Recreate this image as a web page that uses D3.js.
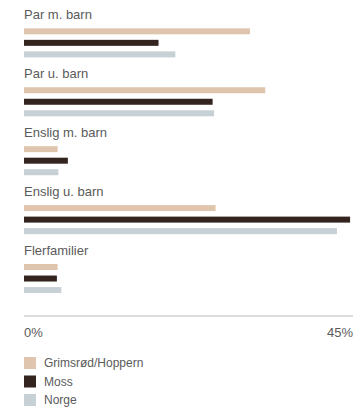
<!DOCTYPE html>
<html>
<head>
<meta charset="utf-8">
<script src="https://cdn.jsdelivr.net/npm/d3@7"></script>
<style>
  body { margin: 0; background: #fff; }
  text { font-family: "Liberation Sans", Arial, sans-serif; }
</style>
</head>
<body>
<div id="chart"></div>
<script>
const categories = ["Par m. barn", "Par u. barn", "Enslig m. barn", "Enslig u. barn", "Flerfamilier"];
const seriesNames = ["Grimsrød/Hoppern", "Moss", "Norge"];
const grimsrod = [30.9, 33.0, 4.6, 26.2, 4.6];
const moss = [18.4, 25.8, 6.0, 44.6, 4.5];
const norge = [20.7, 26.0, 4.7, 42.8, 5.1];
const colors = ["#dfc5ae", "#33241f", "#c7d0d5"];
const tickValues = [0, 45];

const width = 364, height = 408;
const svg = d3.select("#chart").append("svg")
    .attr("width", width)
    .attr("height", height);

const x = d3.scaleLinear().domain([0, 45]).range([24, 353]);

// group positions
const groupY = d3.scalePoint().domain(categories).range([28.3, 264]);
const barY = d3.scaleBand().domain(seriesNames).range([0, 30]).paddingInner(0.4);

const series = [grimsrod, moss, norge];

const groups = svg.selectAll(".group")
    .data(categories)
    .join("g")
    .attr("class", "group")
    .attr("transform", d => `translate(0,${groupY(d)})`);

groups.append("text")
    .attr("x", 24)
    .attr("y", -9)
    .attr("font-size", "13px")
    .attr("fill", "#5a5a5a")
    .text(d => d);

groups.each(function(cat, i) {
    d3.select(this).selectAll("rect")
        .data(seriesNames)
        .join("rect")
        .attr("x", x(0))
        .attr("y", s => barY(s))
        .attr("width", (s, j) => x(series[j][i]) - x(0))
        .attr("height", 6)
        .attr("fill", (s, j) => colors[j]);
});

// axis
const axisY = 316;
svg.append("line")
    .attr("x1", x(0))
    .attr("x2", x(45))
    .attr("y1", axisY)
    .attr("y2", axisY)
    .attr("stroke", "#bbb")
    .attr("stroke-width", 1);

svg.selectAll(".tick-label")
    .data(tickValues)
    .join("text")
    .attr("class", "tick-label")
    .attr("x", d => x(d))
    .attr("y", 337)
    .attr("text-anchor", (d, i) => i === 0 ? "start" : "end")
    .attr("font-size", "13px")
    .attr("fill", "#5a5a5a")
    .text(d => d + "%");

// legend
const legend = svg.selectAll(".legend")
    .data(seriesNames)
    .join("g")
    .attr("class", "legend")
    .attr("transform", (d, i) => `translate(24,${357 + i * 18.5})`);

legend.append("rect")
    .attr("width", 12)
    .attr("height", 12)
    .attr("fill", (d, i) => colors[i]);

legend.append("text")
    .attr("x", 20)
    .attr("y", 10)
    .attr("font-size", "12px")
    .attr("fill", "#5a5a5a")
    .text(d => d);
</script>
</body>
</html>
